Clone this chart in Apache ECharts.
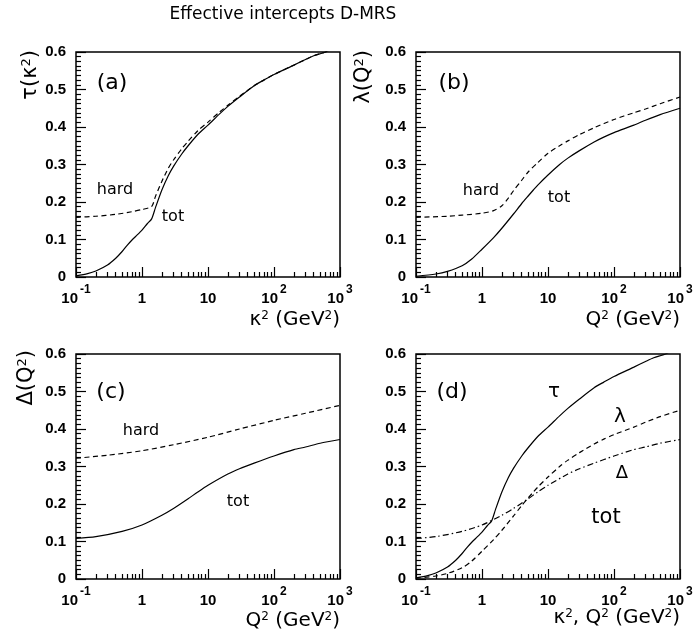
<!DOCTYPE html>
<html>
<head>
<meta charset="utf-8">
<script src="https://cdn.jsdelivr.net/npm/echarts@6/dist/echarts.min.js"></script>
<style>
  html, body { margin: 0; padding: 0; background: #fff; }
  #chart { width: 697px; height: 639px; }
</style>
</head>
<body>
<div id="chart"></div>
<script>
// tau(kappa^2): total and hard-only effective intercept
const tauTotX = [0.1, 0.15, 0.2, 0.3, 0.4, 0.5, 0.6, 0.7, 0.8, 1.0, 1.2, 1.4, 1.6, 2.0, 2.5, 3, 4, 5, 7, 10, 15, 20, 30, 50, 70, 100, 200, 300, 400, 600, 1000];
const tauTot  = [0.003, 0.009, 0.016, 0.032, 0.05, 0.068, 0.085, 0.098, 0.108, 0.125, 0.142, 0.155, 0.185, 0.232, 0.27, 0.295, 0.328, 0.35, 0.38, 0.405, 0.435, 0.455, 0.48, 0.51, 0.525, 0.54, 0.565, 0.58, 0.59, 0.6, 0.62];
const tauHardX = [0.1, 0.2, 0.4, 0.7, 1.0, 1.4, 1.6, 2.0, 2.5, 3, 4, 5, 7, 10, 15, 20, 30, 50, 70, 100, 200, 300, 400, 600, 1000];
const tauHard  = [0.159, 0.162, 0.167, 0.174, 0.18, 0.188, 0.215, 0.255, 0.29, 0.312, 0.342, 0.362, 0.39, 0.413, 0.44, 0.458, 0.482, 0.51, 0.525, 0.54, 0.565, 0.58, 0.59, 0.6, 0.62];

// lambda(Q^2)
const lamTotX = [0.1, 0.2, 0.3, 0.5, 0.7, 1, 1.5, 2, 3, 4, 5, 6, 7, 10, 15, 20, 30, 50, 70, 100, 200, 300, 500, 1000];
const lamTot  = [0.002, 0.008, 0.015, 0.03, 0.048, 0.074, 0.105, 0.13, 0.168, 0.196, 0.216, 0.232, 0.245, 0.272, 0.3, 0.317, 0.337, 0.36, 0.373, 0.385, 0.405, 0.418, 0.433, 0.45];
const lamHardX = [0.1, 0.3, 0.5, 1, 1.5, 2, 2.5, 3, 4, 5, 7, 10, 15, 20, 30, 50, 100, 200, 300, 500, 1000];
const lamHard  = [0.159, 0.162, 0.165, 0.17, 0.177, 0.19, 0.21, 0.23, 0.258, 0.28, 0.305, 0.33, 0.35, 0.363, 0.38, 0.398, 0.42, 0.438, 0.448, 0.462, 0.48];

// Delta(Q^2)
const delTotX = [0.1, 0.2, 0.5, 1, 2, 3, 5, 7, 10, 20, 30, 50, 100, 200, 300, 500, 1000];
const delTot  = [0.108, 0.113, 0.127, 0.144, 0.17, 0.188, 0.214, 0.232, 0.25, 0.28, 0.294, 0.309, 0.328, 0.345, 0.352, 0.362, 0.372];
const delHardX = [0.1, 0.3, 1, 3, 10, 30, 100, 300, 1000];
const delHard  = [0.322, 0.33, 0.342, 0.358, 0.378, 0.4, 0.423, 0.442, 0.463];

// axis ticks
const xMajor = [0.1, 1, 10, 100, 1000];
const xMajorBase = ['10', '1', '10', '10', '10'];
const xMajorExp  = ['-1', '', '', '2', '3'];
const xMinor = [0.2, 0.3, 0.4, 0.5, 0.6, 0.7, 0.8, 0.9, 2, 3, 4, 5, 6, 7, 8, 9,
                20, 30, 40, 50, 60, 70, 80, 90, 200, 300, 400, 500, 600, 700, 800, 900];

const zip = (xs, ys) => xs.map((x, i) => [x, ys[i]]);

const SOLID = 'solid';
const DASH = [5, 3.5];
const DASHDOT = [6, 3, 1.5, 3];

const tickFont = { fontFamily: 'Liberation Sans, Arial, sans-serif', fontWeight: 'bold', fontSize: 15, color: '#000' };
const textFont = 'DejaVu Sans, sans-serif';

const panels = [
  { left: 76,  top: 52 },
  { left: 416, top: 52 },
  { left: 76,  top: 354 },
  { left: 416, top: 354 }
];

const grid = panels.map(p => ({
  left: p.left, top: p.top, width: 264, height: 225,
  show: true, borderColor: '#000', borderWidth: 1.5, backgroundColor: 'transparent'
}));

const xAxis = [];
const yAxis = [];
panels.forEach((p, i) => {
  xAxis.push({
    type: 'log', logBase: 10, min: 0.1, max: 1000, gridIndex: i, position: 'bottom',
    axisLine: { show: false },
    splitLine: { show: false },
    axisTick: { show: true, inside: true, length: 10, customValues: xMajor, lineStyle: { color: '#000', width: 1.2 } },
    axisLabel: {
      show: true, margin: 7, customValues: xMajor,
      formatter: v => {
        const k = xMajor.findIndex(m => Math.abs(m - v) / m < 1e-6);
        if (k < 0) return '';
        return '{b|' + xMajorBase[k] + '}' + (xMajorExp[k] ? '{s|' + xMajorExp[k] + '}' : '');
      },
      rich: {
        b: Object.assign({ lineHeight: 30, verticalAlign: 'middle' }, tickFont),
        s: Object.assign({}, tickFont, { fontSize: 12, lineHeight: 12, verticalAlign: 'top', padding: [0, 0, 0, 2] })
      }
    }
  });
  xAxis.push({
    type: 'log', logBase: 10, min: 0.1, max: 1000, gridIndex: i, position: 'bottom',
    axisLine: { show: false },
    splitLine: { show: false },
    axisTick: { show: true, inside: true, length: 5, customValues: xMinor, lineStyle: { color: '#000', width: 1.2 } },
    axisLabel: { show: false }
  });
  yAxis.push({
    type: 'value', min: 0, max: 0.6, interval: 0.1, gridIndex: i,
    axisLine: { show: false },
    splitLine: { show: false },
    axisTick: { show: true, inside: true, length: 10, lineStyle: { color: '#000', width: 1.2 } },
    minorTick: { show: true, splitNumber: 8, length: 5, lineStyle: { color: '#000', width: 1.2 } },
    axisLabel: Object.assign({ margin: 10 }, tickFont)
  });
});

function line(panel, data, type) {
  return {
    type: 'line', xAxisIndex: panel * 2, yAxisIndex: panel,
    data: data, symbol: 'none', smooth: 0.25, clip: true,
    lineStyle: { color: '#000', width: 1.2, type: type },
    silent: true
  };
}

const series = [
  line(0, zip(tauHardX, tauHard), DASH),
  line(0, zip(tauTotX, tauTot), SOLID),
  line(1, zip(lamHardX, lamHard), DASH),
  line(1, zip(lamTotX, lamTot), SOLID),
  line(2, zip(delHardX, delHard), DASH),
  line(2, zip(delTotX, delTot), SOLID),
  line(3, zip(tauTotX, tauTot), SOLID),
  line(3, zip(lamTotX, lamTot), DASH),
  line(3, zip(delTotX, delTot), DASHDOT)
];

const richText = (size) => ({
  n: { fontFamily: textFont, fontSize: size, fill: '#000', color: '#000' },
  s: { fontFamily: textFont, fontSize: Math.round(size * 0.62), fill: '#000', color: '#000', verticalAlign: 'top', lineHeight: Math.round(size * 0.6) }
});

function txt(x, y, text, size) {
  return {
    type: 'text', x: x, y: y, silent: true,
    style: {
      text: text, fontFamily: textFont, fontSize: size, fill: '#000',
      align: 'center', verticalAlign: 'middle'
    }
  };
}

function richStyle(x, y, text, size, align, rot) {
  return {
    type: 'text', x: x, y: y, rotation: rot || 0, silent: true,
    style: {
      text: text, fill: '#000', align: align, verticalAlign: 'middle',
      fontFamily: textFont, fontSize: size, rich: richText(size)
    }
  };
}

const graphic = [
  txt(283, 15, 'Effective intercepts D-MRS', 17),
  // panel labels
  txt(112, 83, '(a)', 22), txt(454, 83, '(b)', 22), txt(111, 392, '(c)', 22), txt(452, 392, '(d)', 22),
  // curve tags
  txt(115, 190, 'hard', 16), txt(173, 217, 'tot', 16),
  txt(481, 191, 'hard', 16), txt(559, 198, 'tot', 16),
  txt(141, 431, 'hard', 16), txt(238, 502, 'tot', 16),
  txt(554, 392, 'τ', 20), txt(620, 417, 'λ', 20), txt(622, 473, 'Δ', 18), txt(606, 518, 'tot', 21),
  // y-axis titles
  richStyle(31, 50, '{n|τ(κ}{s|2}{n|)}', 21, 'right', Math.PI / 2),
  richStyle(364, 50, '{n|λ(Q}{s|2}{n|)}', 21, 'right', Math.PI / 2),
  richStyle(27, 350, '{n|Δ(Q}{s|2}{n|)}', 21, 'right', Math.PI / 2),
  // x-axis titles
  richStyle(340, 320, '{n|κ}{s|2}{n| (GeV}{s|2}{n|)}', 20, 'right'),
  richStyle(680, 320, '{n|Q}{s|2}{n| (GeV}{s|2}{n|)}', 20, 'right'),
  richStyle(340, 621, '{n|Q}{s|2}{n| (GeV}{s|2}{n|)}', 20, 'right'),
  richStyle(680, 618, '{n|κ}{s|2}{n|, Q}{s|2}{n| (GeV}{s|2}{n|)}', 20, 'right')
];

const chart = echarts.init(document.getElementById('chart'), null, { renderer: 'canvas' });
chart.setOption({
  animation: false,
  backgroundColor: '#fff',
  grid: grid,
  xAxis: xAxis,
  yAxis: yAxis,
  series: series,
  graphic: graphic
});
</script>
</body>
</html>
